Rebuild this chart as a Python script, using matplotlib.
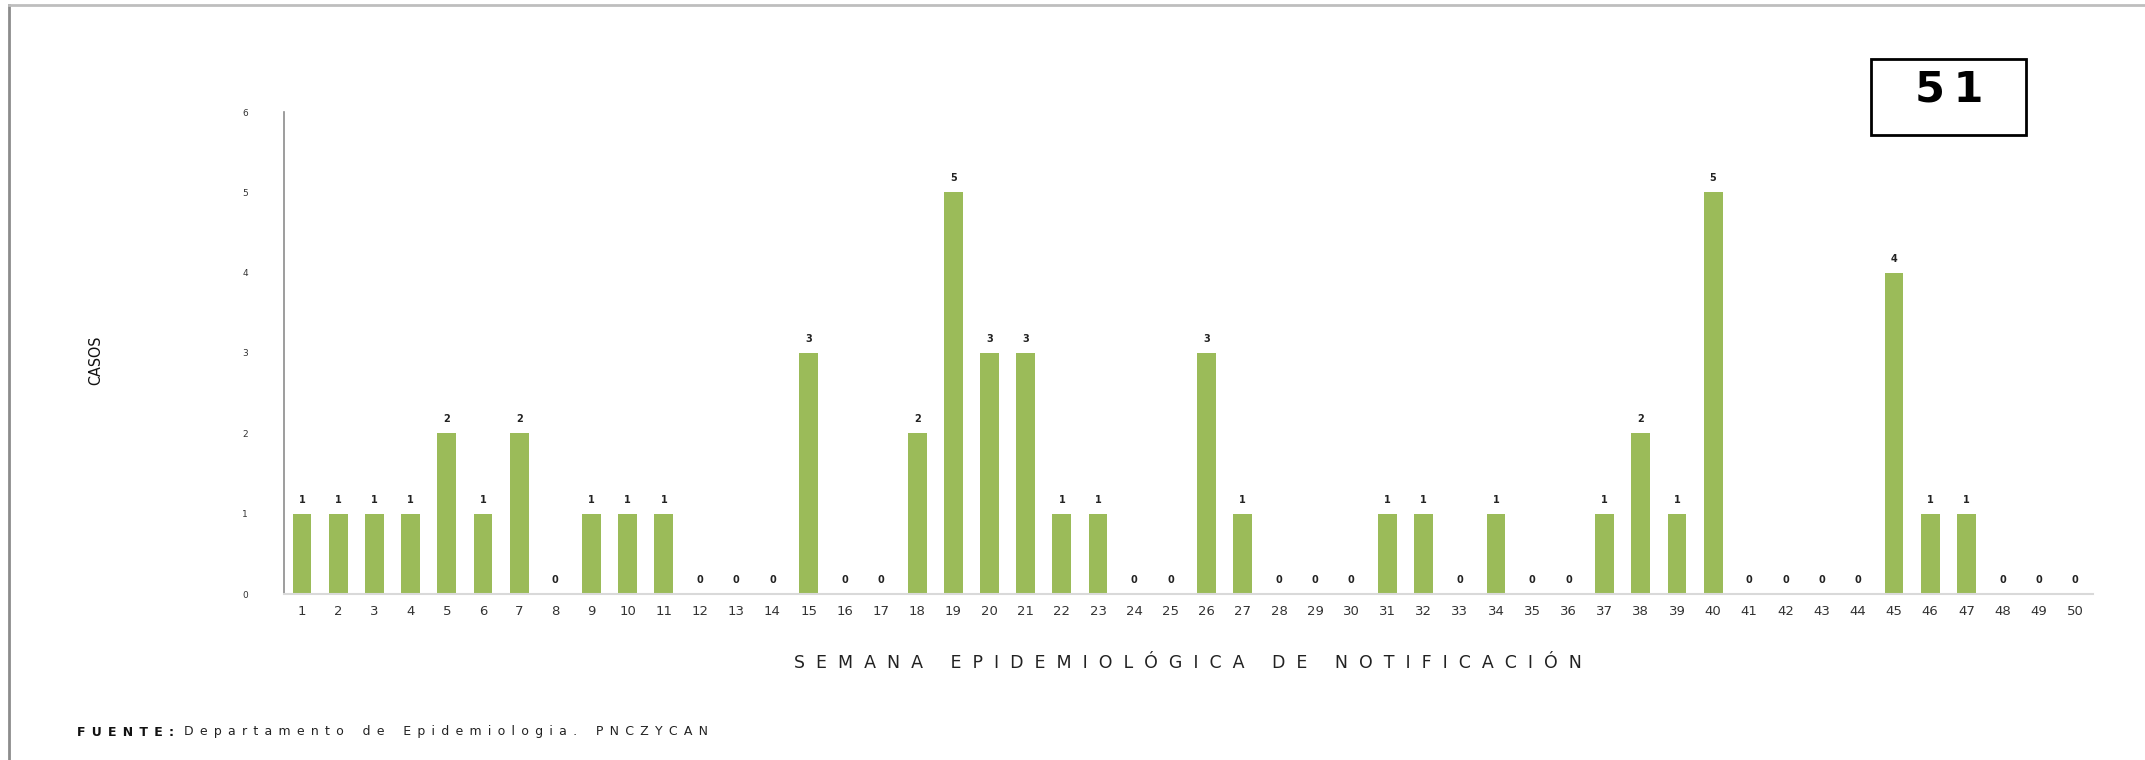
import numpy as np
import matplotlib
matplotlib.use("Agg")
import matplotlib.pyplot as plt
from matplotlib.lines import Line2D
from matplotlib.patches import Rectangle

# datos: casos por semana epidemiologica
semanas = list(range(1, 51))
casos = [1, 1, 1, 1, 2, 1, 2, 0, 1, 1,
         1, 0, 0, 0, 3, 0, 0, 2, 5, 3,
         3, 1, 1, 0, 0, 3, 1, 0, 0, 0,
         1, 1, 0, 1, 0, 0, 1, 2, 1, 5,
         0, 0, 0, 0, 4, 1, 1, 0, 0, 0]
y_ticks = [0, 1, 2, 3, 4, 5, 6]
semana_actual = "51"
titulo_x = "SEMANA EPIDEMIOLÓGICA DE NOTIFICACIÓN"
titulo_y = "CASOS"
fuente_bold = "FUENTE:"
fuente_txt = "Departamento de Epidemiologia. PNCZYCAN"

verde = "#9BBB59"

def espaciar(texto, sep="  ", sep_palabra="      "):
    palabras = texto.split(" ")
    return sep_palabra.join(sep.join(list(p)) for p in palabras)

W, H = 2145, 760
fig = plt.figure(figsize=(W / 100, H / 100), dpi=100)
ax = fig.add_axes([284 / W, 1 - 594 / H, (2093 - 284) / W, (594 - 112) / H])

x = np.array(semanas)
bars = ax.bar(x, casos, width=0.52, color=verde, zorder=2)

for xi, v in zip(x, casos):
    ax.annotate(str(v), (xi, v), xytext=(0, 6.5), textcoords="offset points",
                ha="center", va="bottom", fontsize=7, fontweight="bold",
                color="#222222")

ax.set_xlim(0.5, 50.5)
ax.set_ylim(0, 6)
ax.set_xticks(x)
ax.set_xticklabels([str(s) for s in semanas], fontsize=9.5, color="#333333")
ax.set_yticks(y_ticks)
ax.set_yticklabels([str(t) for t in y_ticks], fontsize=6.5, color="#333333")
ax.tick_params(axis="both", length=0)
ax.tick_params(axis="x", pad=8)
ax.tick_params(axis="y", pad=26)

for s in ["top", "right"]:
    ax.spines[s].set_visible(False)
ax.spines["left"].set_color("#8C8C8C")
ax.spines["left"].set_linewidth(1.2)
ax.spines["bottom"].set_color("#D9D9D9")
ax.spines["bottom"].set_linewidth(1.5)

# etiqueta eje y (fuente estrecha)
fig.text(96 / W, 1 - 360 / H, titulo_y, rotation=90, ha="center", va="center",
         fontsize=11.5, family="DejaVu Sans", fontstretch="condensed",
         color="#111111")

# etiqueta eje x
fig.text(1188 / W, 1 - 663 / H, espaciar(titulo_x, "  ", "     "),
         ha="center", va="center", fontsize=12.5, color="#222222")

# fuente
renderer = fig.canvas.get_renderer()
t1 = fig.text(77 / W, 1 - 732 / H, espaciar(fuente_bold, "\u2002", "\u2002\u2002"),
              ha="left", va="center", fontsize=9, fontweight="bold",
              color="#111111")
bb = t1.get_window_extent(renderer)
fig.text(bb.x1 / W + 10 / W, 1 - 732 / H,
         espaciar(fuente_txt, "\u2002", "\u2002\u2002\u2002"),
         ha="left", va="center", fontsize=9, color="#222222")

# recuadro semana
fig.patches.append(Rectangle((1871 / W, 1 - 135 / H), (2026 - 1871) / W,
                             (135 - 59) / H, transform=fig.transFigure,
                             fill=False, edgecolor="black", linewidth=2))
fig.text(1949 / W, 1 - 90 / H, "\u2009".join(semana_actual), ha="center",
         va="center", fontsize=31, fontweight="bold", color="black")

# marco de la imagen
fig.add_artist(Line2D([9 / W, 9 / W], [0, 1 - 5 / H], transform=fig.transFigure,
                      color="#8C8C8C", linewidth=2))
fig.add_artist(Line2D([9 / W, 1], [1 - 5 / H, 1 - 5 / H], transform=fig.transFigure,
                      color="#BEBEBE", linewidth=2))

fig.savefig("out.png", dpi=100, facecolor="white")
